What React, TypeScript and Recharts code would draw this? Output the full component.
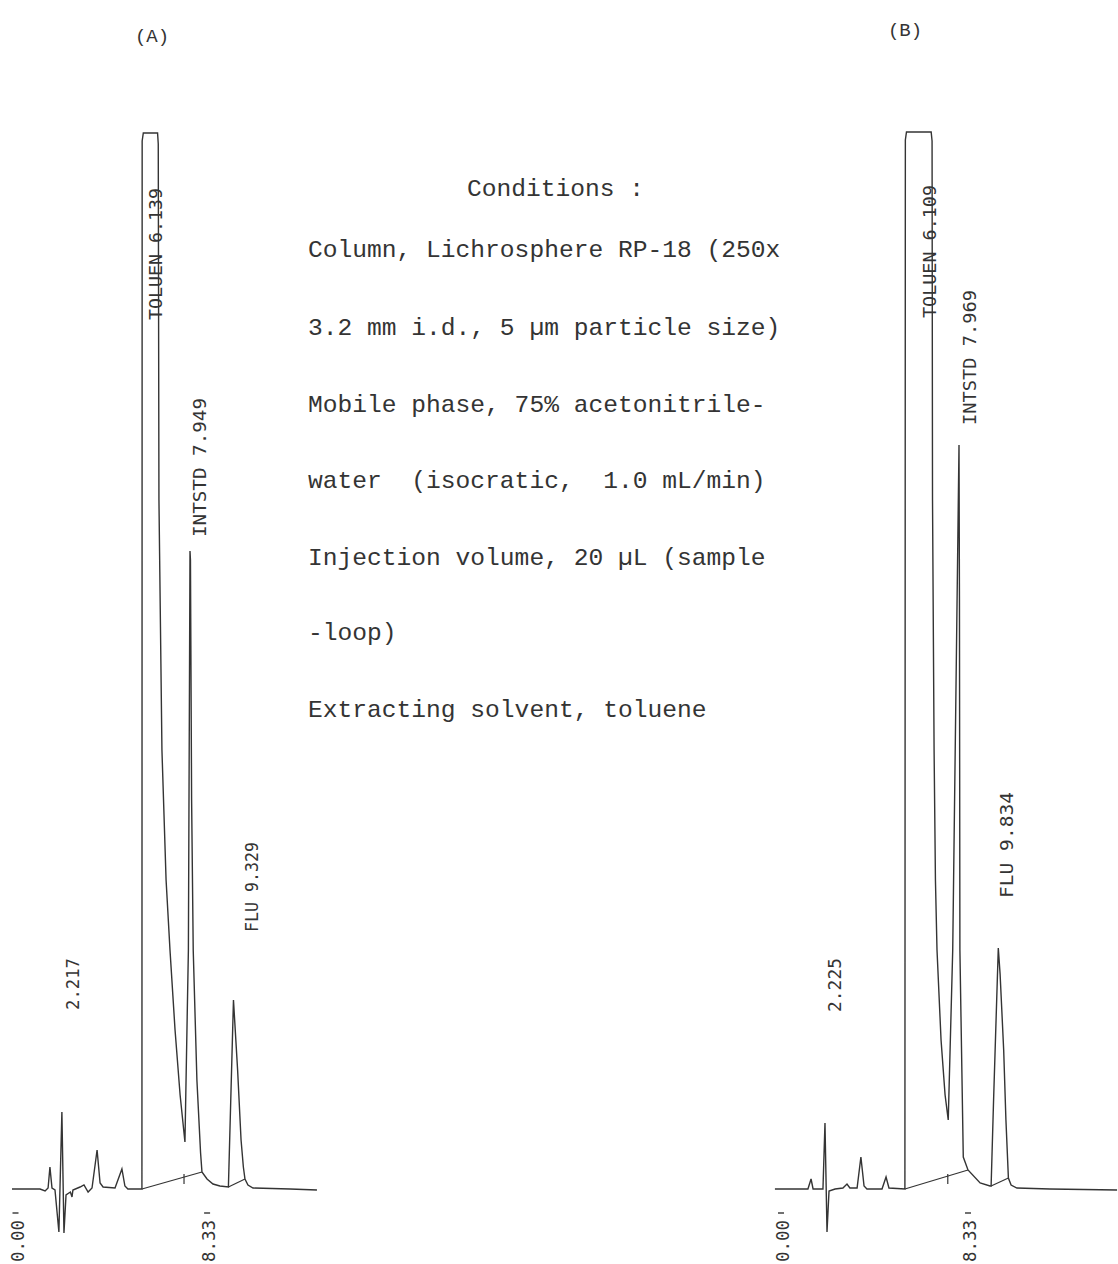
import { LineChart, Line, XAxis, YAxis, ReferenceDot, ReferenceLine } from "recharts";

// chromatogram (A): time in min, detector signal (arbitrary units)
const timeA = [
  -0.24, 0.98, 1.2, 1.33, 1.41, 1.5, 1.63, 1.8, 1.93, 2.02, 2.11, 2.3, 2.37, 2.41, 2.72, 2.89, 3.07, 3.24,
  3.46, 3.59, 3.72, 4.24, 4.54, 4.67, 4.8, 5.41, 5.42, 5.47, 6.09, 6.12, 6.15, 6.28, 6.46, 6.63, 6.85, 7.07,
  7.28, 7.43, 7.5, 7.52, 7.57, 7.64, 7.8, 7.96, 8.02, 8.24, 8.5, 8.8, 9.17, 9.39, 9.57, 9.72, 9.82, 9.89,
  10.02, 10.24, 11.85, 13.02,
];
const signalA = [
  0, 0, -0.2, 0.1, 2.2, 0.1, -0.1, -4.3, 7.7, -4.4, -0.6, -0.3, -0.8, -0.1, 0.2, 0.4, -0.3, 0.1,
  3.9, 0.6, 0.2, 0.1, 2.0, 0.3, 0, 0, 104.8, 105.6, 105.6, 104.5, 68.9, 43.9, 30.9, 23.9, 15.9, 9.4,
  4.7, 23.9, 63.8, 62.9, 38.9, 23.9, 10.9, 3.6, 1.7, 1.0, 0.5, 0.3, 0.2, 18.9, 11.9, 4.9, 2.2, 1.0,
  0.4, 0.1, 0, -0.1,
];

// chromatogram (B)
const timeB = [
  -0.36, 1.11, 1.25, 1.34, 1.78, 1.87, 1.96, 2.05, 2.32, 2.67, 2.85, 2.98, 3.3, 3.47, 3.61, 3.74, 4.41,
  4.59, 4.72, 5.43, 5.45, 5.5, 6.6, 6.64, 6.66, 6.73, 6.79, 6.86, 7.04, 7.22, 7.36, 7.56, 7.84, 7.86, 7.88,
  8.03, 8.24, 8.78, 9.22, 9.27, 9.38, 9.59, 9.67, 9.83, 9.93, 10.04, 10.16, 10.42, 11.89, 14.88,
];
const signalB = [
  0, 0, 1.0, 0, 0, 6.6, -4.3, -0.2, 0, 0.1, 0.5, 0.1, 0.1, 3.2, 0.3, 0, 0,
  1.2, 0.1, 0, 104.9, 105.7, 105.7, 104.8, 68.9, 43.9, 30.9, 23.9, 14.9, 9.4, 6.9, 23.9, 74.4, 58.9, 23.9,
  3.2, 1.9, 0.6, 0.3, 0.3, 8.9, 24.1, 21.5, 13.9, 6.9, 1.1, 0.4, 0.1, 0, -0.1,
];

// peak annotations printed by the integrator
const peakTextA = ["2.217", "TOLUEN 6.139", "INTSTD 7.949", "FLU 9.329"];
const peakTimeA = [2.41, 6.02, 7.93, 10.2];
const peakSignalA = [17.9, 86.9, 65.2, 25.7];
const peakTextB = ["2.225", "TOLUEN 6.109", "INTSTD 7.969", "FLU 9.834"];
const peakTimeB = [2.32, 6.55, 8.33, 9.98];
const peakSignalB = [17.7, 87.1, 76.4, 29.1];
const peakLenA = [52, 132, 139, 90];
const peakLenB = [54, 133, 135, 106];

// time marks
const markTimes = [0, 8.33];
const markText = ["0.00", "8.33"];
const markSignal = -2.4;

// integrator baselines: [t1, s1, t2, s2]
const baseA = [
  [5.41, 0, 8.02, 1.7],
  [9.17, 0.2, 9.89, 1.0],
  [7.24, 0.5, 7.24, 1.5],
];
const baseB = [
  [5.43, 0, 8.24, 1.9],
  [9.27, 0.3, 10.04, 1.1],
  [7.34, 0.5, 7.34, 1.5],
];

const conditions = [
  "Column, Lichrosphere RP-18 (250x",
  "3.2 mm i.d., 5 \u00b5m particle size)",
  "Mobile phase, 75% acetonitrile-",
  "water  (isocratic,  1.0 mL/min)",
  "Injection volume, 20 \u00b5L (sample",
  "-loop)",
  "Extracting solvent, toluene",
];

const INK = "#343434";
const MONO = "'Liberation Mono', 'DejaVu Sans Mono', monospace";
const DOT = "'DejaVu Sans Mono', 'Liberation Mono', monospace";

function VText(props: any) {
  const { cx, cy, text, len } = props;
  return (
    <text
      x={cx}
      y={cy}
      transform={`rotate(-90 ${cx} ${cy})`}
      textAnchor="start"
      dominantBaseline="central"
      textLength={len}
      lengthAdjust="spacingAndGlyphs"
      fontFamily={DOT}
      fontSize={17}
      fill={INK}
    >
      {text}
    </text>
  );
}

function TimeMark(props: any) {
  const { cx, cy, text } = props;
  const ty = cy + 7;
  return (
    <g>
      <line x1={cx - 5} y1={cy} x2={cx + 1} y2={cy} stroke={INK} strokeWidth={1.4} />
      <text
        x={cx}
        y={ty}
        transform={`rotate(-90 ${cx} ${ty})`}
        textAnchor="end"
        dominantBaseline="central"
        textLength={42}
        lengthAdjust="spacingAndGlyphs"
        fontFamily={DOT}
        fontSize={17}
        fill={INK}
      >
        {text}
      </text>
    </g>
  );
}

function Chromatogram(props: any) {
  const { time, signal, texts, tTimes, tSignals, lens, bases, domain, width, ml, mr } = props;
  const data = time.map((t: number, i: number) => ({ t, s: signal[i] }));
  return (
    <LineChart width={width} height={1269} data={data} margin={{ top: 89, right: mr, bottom: 0, left: ml }}>
      <XAxis dataKey="t" type="number" domain={domain} hide />
      <YAxis type="number" domain={[-8, 110]} hide />
      {bases.map((b: number[], i: number) => (
        <ReferenceLine
          key={"b" + i}
          segment={[
            { x: b[0], y: b[1] },
            { x: b[2], y: b[3] },
          ]}
          stroke={INK}
          strokeWidth={1.2}
        />
      ))}
      <Line
        dataKey="s"
        type="linear"
        stroke={INK}
        strokeWidth={1.4}
        dot={false}
        isAnimationActive={false}
      />
      {texts.map((txt: string, i: number) => (
        <ReferenceDot
          key={"p" + i}
          x={tTimes[i]}
          y={tSignals[i]}
          r={0}
          shape={(p: any) => <VText cx={p.cx} cy={p.cy} text={txt} len={lens[i]} />}
        />
      ))}
      {markTimes.map((mt, i) => (
        <ReferenceDot
          key={"m" + i}
          x={mt}
          y={markSignal}
          r={0}
          shape={(p: any) => <TimeMark cx={p.cx} cy={p.cy} text={markText[i]} />}
        />
      ))}
    </LineChart>
  );
}

export default function App() {
  return (
    <div
      style={{
        position: "absolute",
        left: 0,
        top: 0,
        width: 1118,
        height: 1264,
        overflow: "hidden",
        background: "#ffffff",
      }}
    >
      <div style={{ position: "absolute", left: 0, top: 0 }}>
        <Chromatogram
          time={timeA}
          signal={signalA}
          texts={peakTextA}
          tTimes={peakTimeA}
          tSignals={peakSignalA}
          lens={peakLenA}
          bases={baseA}
          domain={[-0.25, 13.2]}
          width={340}
          ml={11.75}
          mr={18.9}
        />
      </div>
      <div style={{ position: "absolute", left: 760, top: 0 }}>
        <Chromatogram
          time={timeB}
          signal={signalB}
          texts={peakTextB}
          tTimes={peakTimeB}
          tSignals={peakSignalB}
          lens={peakLenB}
          bases={baseB}
          domain={[-0.4, 14.9]}
          width={358}
          ml={14.02}
          mr={0.495}
        />
      </div>
      <svg
        width={1118}
        height={1264}
        style={{ position: "absolute", left: 0, top: 0, pointerEvents: "none" }}
      >
        <text x={152} y={42} textAnchor="middle" fontFamily={MONO} fontSize={19} fill={INK}>
          (A)
        </text>
        <text x={905} y={36} textAnchor="middle" fontFamily={MONO} fontSize={19} fill={INK}>
          (B)
        </text>
        <text x={467} y={196} fontFamily={MONO} fontSize={24.6} fill={INK} style={{ whiteSpace: "pre" }}>
          Conditions :
        </text>
        {conditions.map((line, i) => (
          <text
            key={i}
            x={308}
            y={[257, 335, 412, 488, 565, 640, 717][i]}
            fontFamily={MONO}
            fontSize={24.6}
            fill={INK}
            style={{ whiteSpace: "pre" }}
          >
            {line}
          </text>
        ))}
      </svg>
    </div>
  );
}
